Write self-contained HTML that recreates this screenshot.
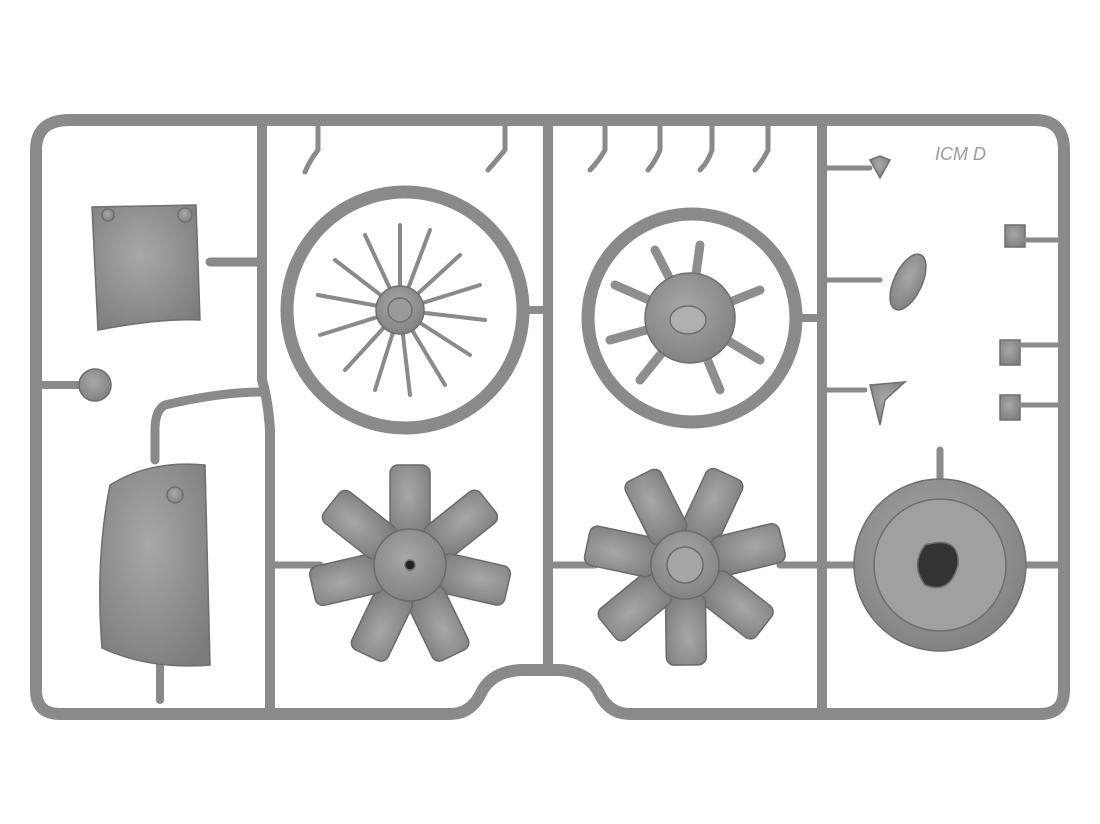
<!DOCTYPE html>
<html><head><style>
html,body{margin:0;padding:0;background:#fff;width:1100px;height:824px;overflow:hidden}
</style></head><body>
<svg width="1100" height="824" viewBox="0 0 1100 824" xmlns="http://www.w3.org/2000/svg">
<defs>
<radialGradient id="g" cx="45%" cy="40%" r="70%"><stop offset="0" stop-color="#a8a8a8"/><stop offset="1" stop-color="#7c7c7c"/></radialGradient>
</defs>
<rect width="1100" height="824" fill="#fff"/>
<g fill="none" stroke="#8a8a8a" stroke-linecap="round" stroke-linejoin="round">
<!-- outer frame -->
<path d="M70 120 H1035 Q1064 120 1064 150 V690 Q1064 714 1040 714 H630 Q610 714 600 695 Q590 672 560 670 H520 Q490 672 480 695 Q470 714 450 714 H60 Q36 714 36 690 V150 Q36 120 70 120 Z" stroke-width="12"/>
<!-- verticals -->
<path d="M262 122 V380 Q268 400 270 430 V712" stroke-width="10"/>
<path d="M548 122 V670" stroke-width="10"/>
<path d="M822 122 V712" stroke-width="10"/>
<!-- left gate lines -->
<path d="M262 392 Q220 392 165 405 Q155 410 155 430 V460" stroke-width="9"/>
<path d="M160 640 V700" stroke-width="8"/>
<path d="M210 262 H262" stroke-width="9"/>
<path d="M40 385 H80" stroke-width="8"/>
<!-- wheel rings -->
<circle cx="405" cy="310" r="118" stroke-width="13"/>
<circle cx="692" cy="318" r="104" stroke-width="13"/>
<path d="M523 310 H548" stroke-width="8"/>
<path d="M796 318 H822" stroke-width="8"/>
<!-- engine gates -->
<path d="M270 565 H320" stroke-width="7"/>
<path d="M548 565 H595" stroke-width="7"/>
<path d="M780 565 H822" stroke-width="7"/>
<path d="M822 565 H860" stroke-width="7"/>
<path d="M1025 565 H1064" stroke-width="7"/>
<path d="M940 450 V480" stroke-width="7"/>
</g>
<g stroke="#8a8a8a" stroke-width="4" stroke-linecap="round">
<!-- spokes wheel 1 -->
<g transform="translate(400,310)">
<line x1="0" y1="0" x2="0" y2="-85"/><line x1="0" y1="0" x2="30" y2="-80"/><line x1="0" y1="0" x2="60" y2="-55"/>
<line x1="0" y1="0" x2="80" y2="-25"/><line x1="0" y1="0" x2="85" y2="10"/><line x1="0" y1="0" x2="70" y2="45"/>
<line x1="0" y1="0" x2="45" y2="75"/><line x1="0" y1="0" x2="10" y2="85"/><line x1="0" y1="0" x2="-25" y2="80"/>
<line x1="0" y1="0" x2="-55" y2="60"/><line x1="0" y1="0" x2="-80" y2="25"/><line x1="0" y1="0" x2="-82" y2="-15"/>
<line x1="0" y1="0" x2="-65" y2="-50"/><line x1="0" y1="0" x2="-35" y2="-75"/>
</g>
</g>
<g fill="url(#g)" stroke="#6e6e6e" stroke-width="1.5">
<circle cx="400" cy="310" r="24"/>
<circle cx="400" cy="310" r="12" fill="#9a9a9a"/>
<!-- wheel 2 hub -->
<g stroke-width="9" stroke="#8e8e8e" stroke-linecap="round" fill="none">
<line x1="690" y1="318" x2="700" y2="245"/><line x1="690" y1="318" x2="760" y2="290"/><line x1="690" y1="318" x2="760" y2="360"/>
<line x1="690" y1="318" x2="720" y2="390"/><line x1="690" y1="318" x2="640" y2="380"/><line x1="690" y1="318" x2="610" y2="340"/>
<line x1="690" y1="318" x2="615" y2="285"/><line x1="690" y1="318" x2="655" y2="250"/>
</g>
<circle cx="690" cy="318" r="45"/>
<ellipse cx="688" cy="320" rx="18" ry="14" fill="#b0b0b0"/>
<!-- left panel -->
<path d="M92 207 L196 205 L200 320 Q160 318 98 330 Z"/>
<circle cx="108" cy="215" r="6"/><circle cx="185" cy="215" r="7"/>
<circle cx="95" cy="385" r="16"/>
<!-- cowl -->
<path d="M110 485 Q150 460 205 465 L210 665 Q150 670 102 648 Q95 560 110 485 Z"/>
<circle cx="175" cy="495" r="8"/>
<!-- right disc -->
<circle cx="940" cy="565" r="86"/>
<circle cx="940" cy="565" r="66" fill="#a0a0a0"/>
<path d="M925 545 Q960 535 958 565 Q950 595 925 585 Q910 565 925 545 Z" fill="#333"/>
<!-- small parts right -->
<ellipse cx="908" cy="282" rx="14" ry="30" transform="rotate(25 908 282)"/>
<path d="M870 385 L905 382 L885 400 L880 425 Z"/>
<path d="M1000 340 h20 v25 h-20 z"/><path d="M1000 395 h20 v25 h-20 z"/>
<path d="M1005 225 h20 v22 h-20 z"/>
<path d="M870 160 l10 -4 l10 4 l-10 18 z"/>
</g>
<!-- engines -->
<g id="e1" transform="translate(410,565)">
<g fill="url(#g)" stroke="#6a6a6a" stroke-width="1.5">
<g><rect x="-20" y="-100" width="40" height="70" rx="8"/></g>
<g transform="rotate(51.4)"><rect x="-20" y="-100" width="40" height="70" rx="8"/></g>
<g transform="rotate(102.8)"><rect x="-20" y="-100" width="40" height="70" rx="8"/></g>
<g transform="rotate(154.2)"><rect x="-20" y="-100" width="40" height="70" rx="8"/></g>
<g transform="rotate(205.6)"><rect x="-20" y="-100" width="40" height="70" rx="8"/></g>
<g transform="rotate(257)"><rect x="-20" y="-100" width="40" height="70" rx="8"/></g>
<g transform="rotate(308.4)"><rect x="-20" y="-100" width="40" height="70" rx="8"/></g>
<circle r="36"/>
<circle r="5" fill="#222"/>
</g></g>
<g transform="translate(685,565) rotate(25)">
<g fill="url(#g)" stroke="#6a6a6a" stroke-width="1.5">
<rect x="-20" y="-100" width="40" height="70" rx="8"/>
<g transform="rotate(51.4)"><rect x="-20" y="-100" width="40" height="70" rx="8"/></g>
<g transform="rotate(102.8)"><rect x="-20" y="-100" width="40" height="70" rx="8"/></g>
<g transform="rotate(154.2)"><rect x="-20" y="-100" width="40" height="70" rx="8"/></g>
<g transform="rotate(205.6)"><rect x="-20" y="-100" width="40" height="70" rx="8"/></g>
<g transform="rotate(257)"><rect x="-20" y="-100" width="40" height="70" rx="8"/></g>
<g transform="rotate(308.4)"><rect x="-20" y="-100" width="40" height="70" rx="8"/></g>
<circle r="34"/>
<circle r="18" fill="#a5a5a5"/>
</g></g>
<!-- top gates small parts -->
<g fill="none" stroke="#8a8a8a" stroke-width="5" stroke-linecap="round">
<path d="M318 125 V150 Q310 160 305 172"/>
<path d="M505 125 V150 Q495 162 488 170"/>
<path d="M605 125 V150 Q598 162 590 170"/>
<path d="M660 125 V150 Q655 162 648 170"/>
<path d="M712 125 V150 Q708 162 700 170"/>
<path d="M768 125 V150 Q762 162 755 170"/>
<path d="M822 280 H880"/><path d="M822 390 H865"/><path d="M822 168 H870"/>
<path d="M1064 240 H1025"/><path d="M1064 345 H1020"/><path d="M1064 405 H1020"/>
</g>
<text x="935" y="160" font-family="Liberation Sans, sans-serif" font-size="18" font-style="italic" fill="#9a9a9a">ICM D</text>
</svg>
</body></html>
